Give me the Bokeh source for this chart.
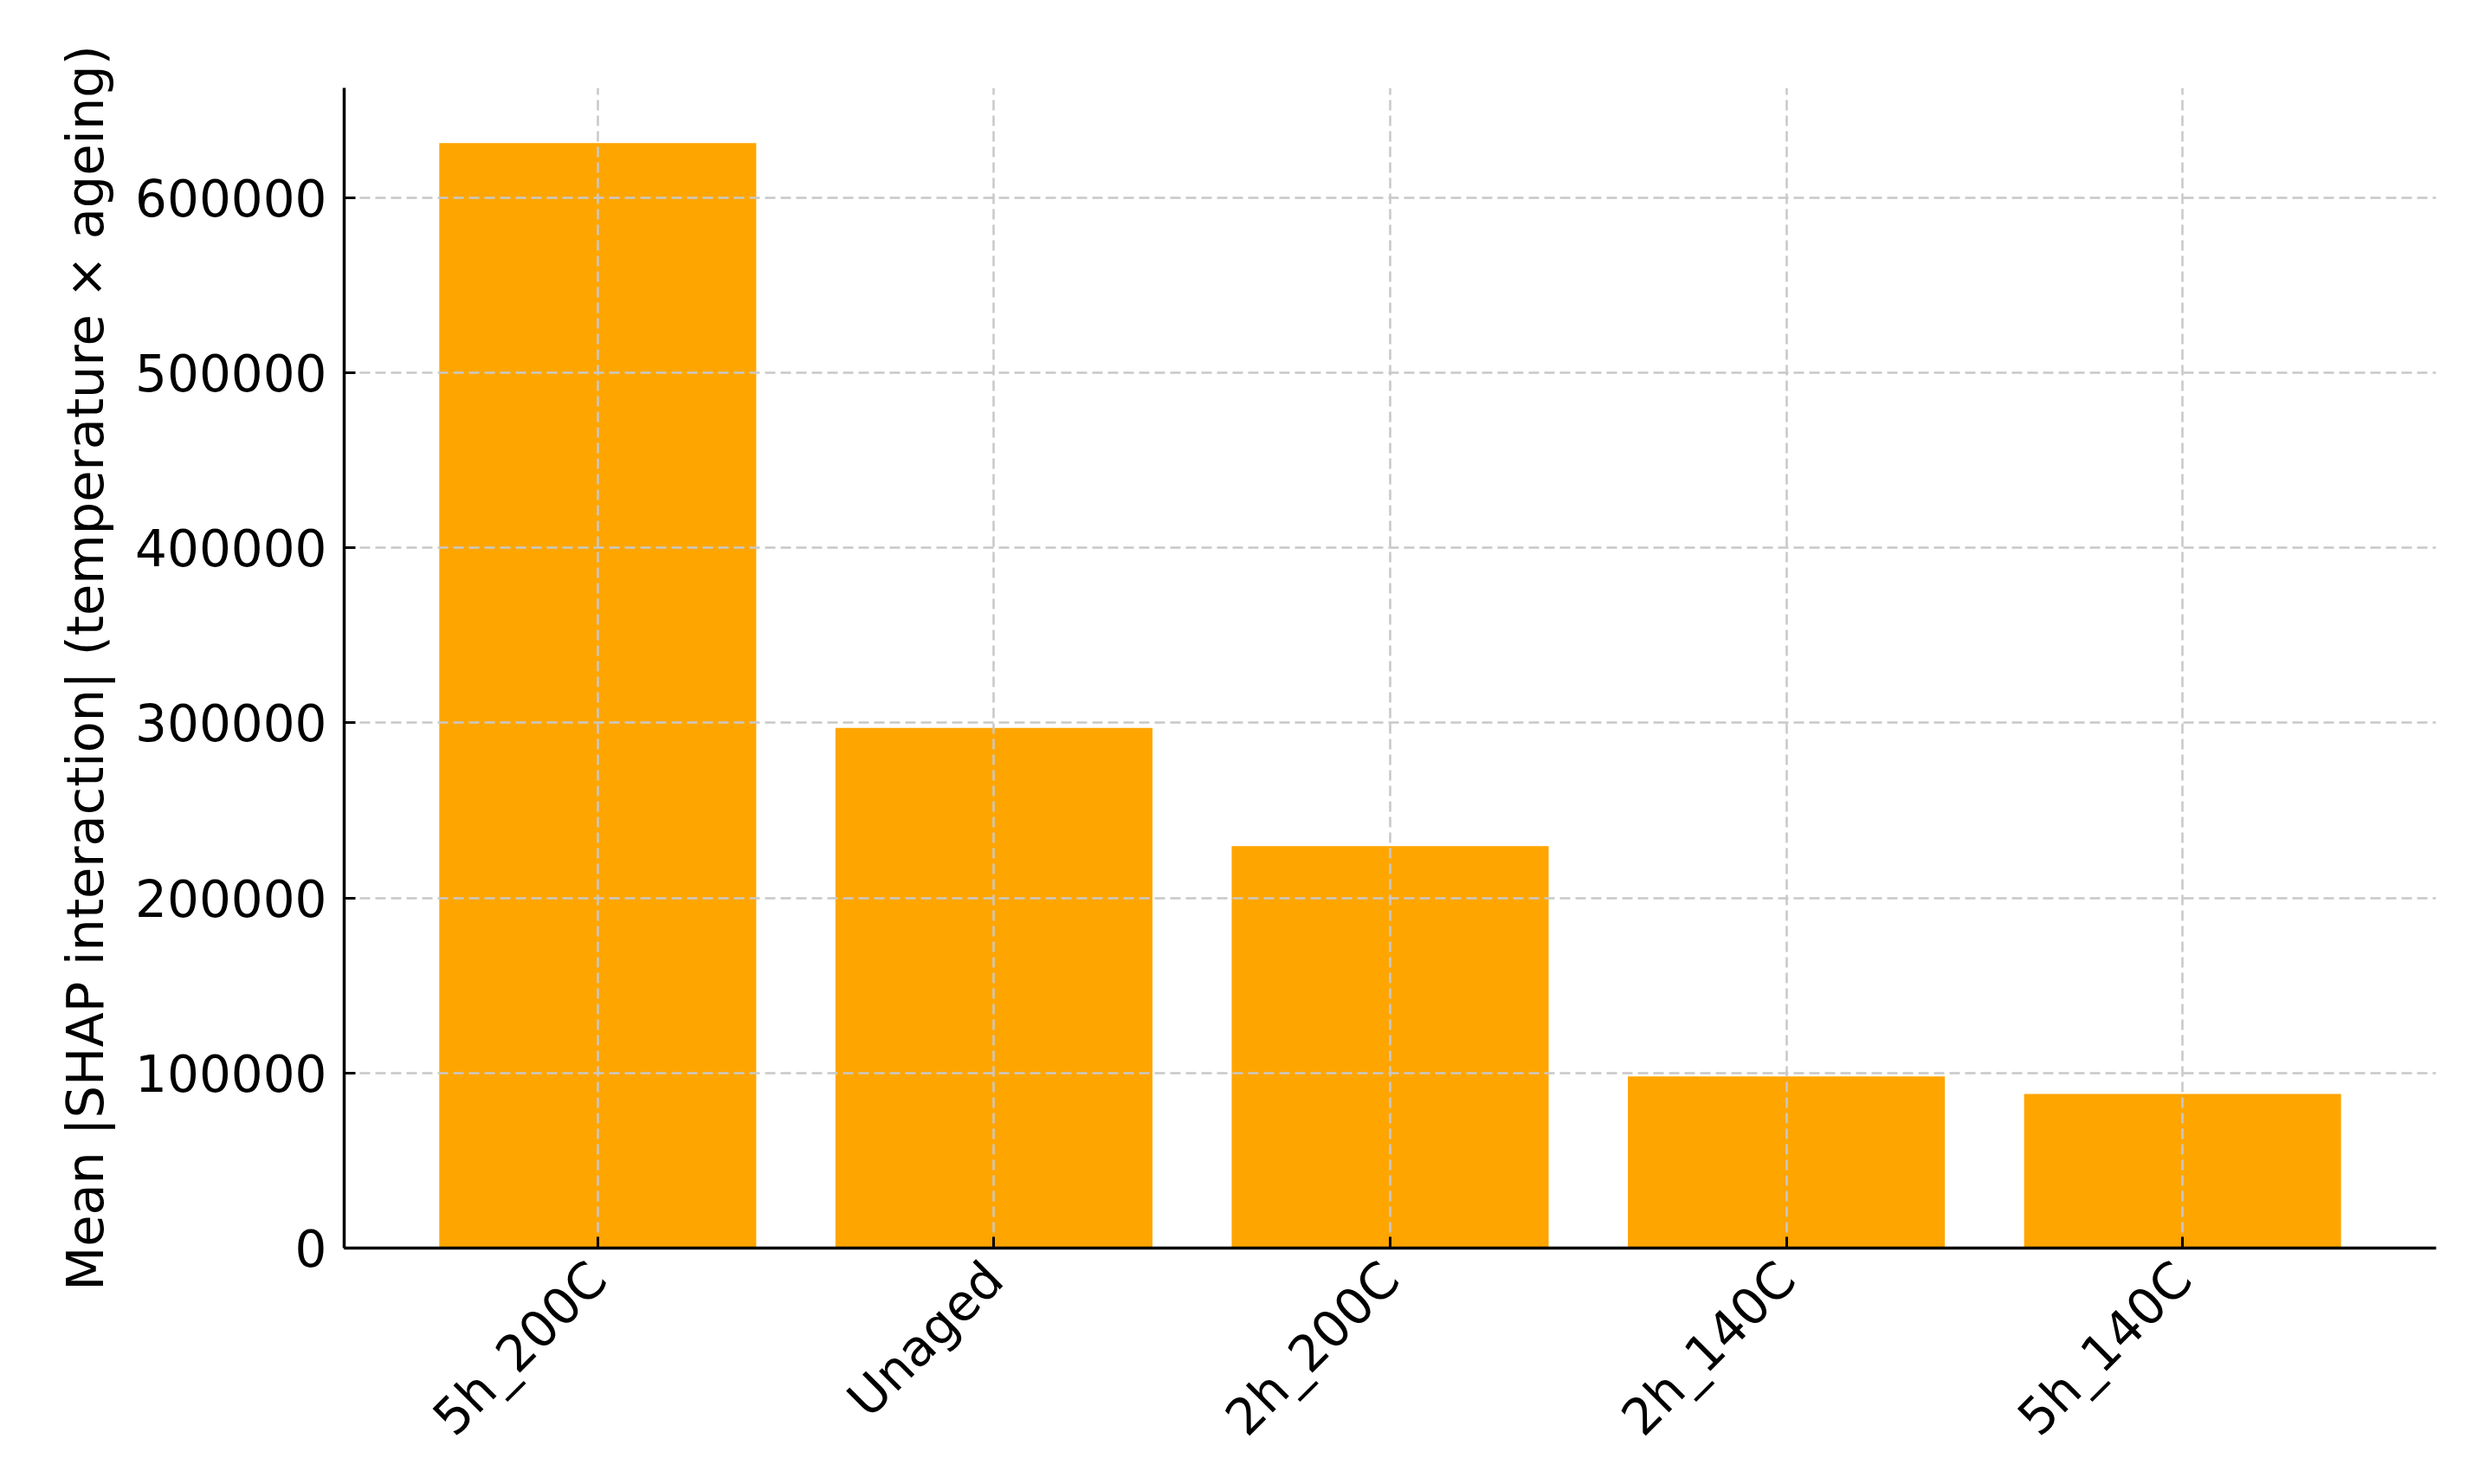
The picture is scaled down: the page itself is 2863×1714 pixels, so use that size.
import math
from bokeh.plotting import figure
from bokeh.models import Range1d, FixedTicker, NumeralTickFormatter, ColumnDataSource
from bokeh.embed import file_html
from bokeh.resources import INLINE

categories = ["5h_200C", "Unaged", "2h_200C", "2h_140C", "5h_140C"]
values = [631000, 297000, 229500, 98000, 88000]
y_ticks = [0, 100000, 200000, 300000, 400000, 500000, 600000]
y_label = "Mean |SHAP interaction| (temperature \u00d7 ageing)"

xs = list(range(len(categories)))
src = ColumnDataSource(dict(x=xs, top=values, cat=categories))

FONT = "DejaVu Sans"
FS = "58px"

p = figure(frame_width=2416, frame_height=1340, output_backend="svg", toolbar_location=None,
           x_range=Range1d(-0.64, len(categories) - 1 + 0.64),
           y_range=Range1d(0, max(values) * 1.05),
           min_border_left=397, min_border_right=34, min_border_top=101, min_border_bottom=250)
p.outline_line_color = None
p.background_fill_color = "white"
p.border_fill_color = "white"

bars = p.vbar(x="x", top="top", width=0.8, bottom=0, source=src, fill_color="#FFA500", line_color=None)
bars.level = "image"

for ax in (p.xaxis[0], p.yaxis[0]):
    ax.axis_line_color = "black"
    ax.axis_line_width = 3.5
    ax.major_tick_line_color = "black"
    ax.major_tick_line_width = 3
    ax.major_tick_in = 13
    ax.major_tick_out = 0
    ax.minor_tick_line_color = None
    ax.major_label_text_font = FONT
    ax.major_label_text_font_size = FS
    ax.major_label_text_color = "black"

p.xaxis.ticker = FixedTicker(ticks=xs)
p.xaxis.major_label_overrides = {i: c for i, c in zip(xs, categories)}
p.xaxis.major_label_orientation = math.pi / 4
p.xaxis.major_label_standoff = 26

p.yaxis.ticker = FixedTicker(ticks=y_ticks)
p.yaxis.formatter = NumeralTickFormatter(format="0")
p.yaxis.major_label_standoff = 20
p.yaxis.axis_label = y_label
p.yaxis.axis_label_text_font = FONT
p.yaxis.axis_label_text_font_size = "59px"
p.yaxis.axis_label_text_font_style = "normal"
p.yaxis.axis_label_text_color = "black"
p.yaxis.axis_label_standoff = 20

for g in (p.xgrid[0], p.ygrid[0]):
    g.grid_line_color = "#c8c8c8"
    g.grid_line_width = 2.5
    g.grid_line_dash = "12 6"
    g.level = "underlay"

open("out.html", "w").write(file_html(p, INLINE))
